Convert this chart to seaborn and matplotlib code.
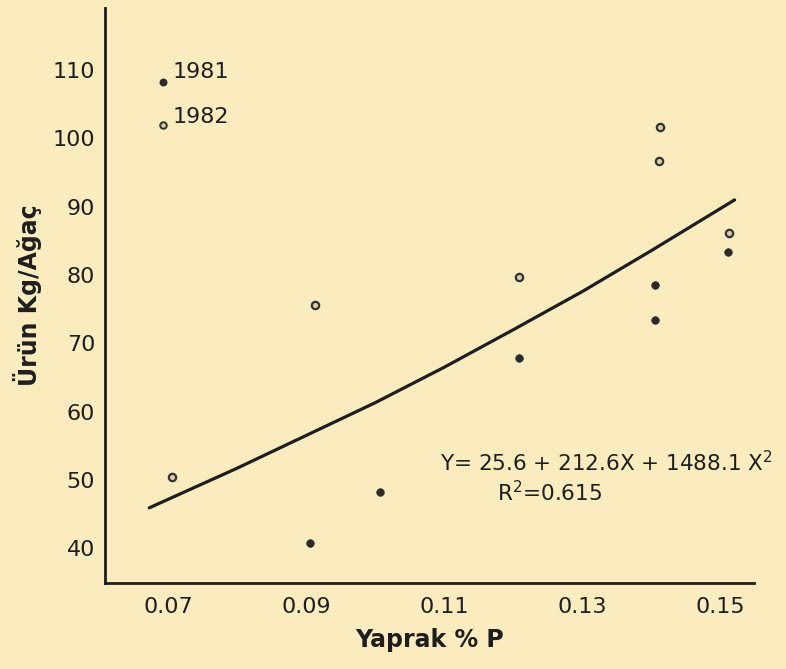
import matplotlib
matplotlib.use("Agg")
import matplotlib.pyplot as plt
import seaborn as sns

# Leaf P (%) and yield (kg/tree)
x_1981 = [0.0905, 0.1007, 0.1208, 0.1405, 0.1405, 0.1510]
y_1981 = [40.8, 48.2, 67.8, 78.5, 73.4, 83.4]

x_1982 = [0.0706, 0.0913, 0.1208, 0.1412, 0.1410, 0.1512]
y_1982 = [50.4, 75.6, 79.7, 101.7, 96.7, 86.1]

# fitted curve as drawn on the figure
curve_x = [0.0673, 0.080, 0.090, 0.100, 0.110, 0.120, 0.130, 0.140, 0.152]
curve_y = [45.9, 51.7, 56.5, 61.3, 66.5, 72.0, 77.6, 83.6, 91.0]

x_ticks = [0.07, 0.09, 0.11, 0.13, 0.15]
x_tick_labels = ["0.07", "0.09", "0.11", "0.13", "0.15"]
y_ticks = [40, 50, 60, 70, 80, 90, 100, 110]

paper = "#FAECBF"
ink = "#1E1E1E"

sns.set_theme(style="white")
plt.rcParams['font.family'] = ['DejaVu Sans']

fig = plt.figure(figsize=(7.86, 6.69), dpi=100, facecolor=paper)
ax = fig.add_axes([0.1336, 0.1286, 0.8256, 0.8594])
ax.set_facecolor(paper)

# regression curve
sns.lineplot(x=curve_x, y=curve_y, ax=ax, color=ink, linewidth=2.3, sort=True)

# 1981 = filled, 1982 = open
sns.scatterplot(x=x_1981, y=y_1981, ax=ax, color="#2a2a2a", s=30,
                edgecolor="#2a2a2a", linewidth=0.5, zorder=3)
sns.scatterplot(x=x_1982, y=y_1982, ax=ax, color="#d8ccA8", s=28,
                edgecolor="#333333", linewidth=1.6, zorder=3)

ax.set_xlim(0.0609, 0.1548)
ax.set_ylim(34.9, 119.1)

ax.set_xticks(x_ticks)
ax.set_xticklabels(x_tick_labels)
ax.set_yticks(y_ticks)
ax.tick_params(axis="both", direction="out", length=5, width=1.5,
               color=ink, labelsize=16, labelcolor=ink, pad=2)
ax.tick_params(axis="x", pad=5)

for side in ["top", "right"]:
    ax.spines[side].set_visible(False)
for side in ["left", "bottom"]:
    ax.spines[side].set_color(ink)
    ax.spines[side].set_linewidth(2.0)

ax.set_xlabel("Yaprak % P", fontsize=17, fontweight="bold", color=ink, labelpad=8)
ax.set_ylabel("Ürün Kg/Ağaç", fontsize=17, fontweight="bold", color=ink, labelpad=8)

# in-plot key
ax.scatter([0.089], [0.872], transform=ax.transAxes, s=22, color="#2a2a2a",
           clip_on=False, zorder=4)
ax.text(0.104, 0.889, "1981", transform=ax.transAxes, fontsize=16,
        color=ink, va="center", ha="left")
ax.scatter([0.089], [0.796], transform=ax.transAxes, s=22, color="#d8ccA8",
           edgecolor="#333333", linewidth=1.4, clip_on=False, zorder=4)
ax.text(0.104, 0.811, "1982", transform=ax.transAxes, fontsize=16,
        color=ink, va="center", ha="left")

# equation
ax.text(0.1094, 52.6, "Y= 25.6 + 212.6X + 1488.1 X$^2$", fontsize=15.5,
        color=ink, va="center", ha="left", clip_on=False)
ax.text(0.1176, 48.1, "R$^2$=0.615", fontsize=15.5, color=ink,
        va="center", ha="left")

fig.savefig("out.png", dpi=100, facecolor=paper)
print("saved out.png")
